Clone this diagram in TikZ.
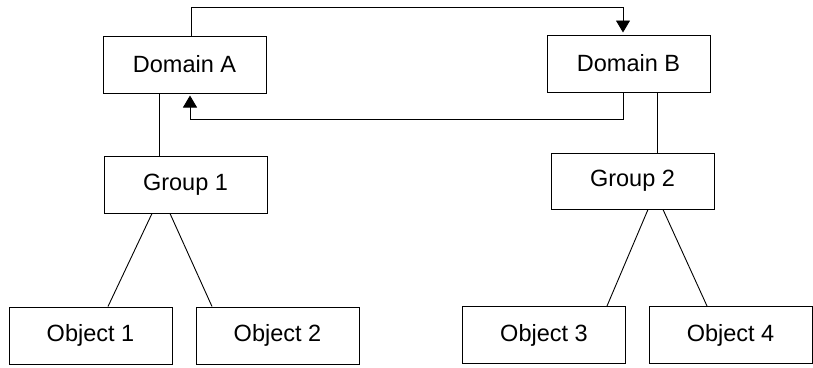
\documentclass[tikz,border=0pt]{standalone}
\usepackage{fontspec}
\setmainfont{Liberation Sans}
\usetikzlibrary{arrows.meta}
\begin{document}
\begin{tikzpicture}[x=1pt,y=-1pt,
  box/.style={draw=black, line width=1pt, fill=white, minimum width=163pt, minimum height=57pt, inner sep=0pt,
    font=\fontsize{23.5}{28}\selectfont},
  link/.style={draw=black, line width=0.9pt},
  arr/.style={link, -{Triangle[length=12pt,width=14pt]}, shorten >=2pt}]
\useasboundingbox (0,0) rectangle (813,367);
\node[box] (dA) at (184.5,64.5) {Domain A};
\node[box] (dB) at (628.5,63.5) {Domain B};
\node[box] (g1) at (185.5,184.5) {Group 1};
\node[box, minimum height=56pt] (g2) at (632.5,181) {Group 2};
\node[box] (o1) at (90.5,335.5) {Object 1};
\node[box] (o2) at (277.5,335.5) {Object 2};
\node[box] (o3) at (544,335) {Object 3};
\node[box] (o4) at (730.5,335) {Object 4};
\coordinate (top) at (0,7);
\coordinate (bot) at (0,119);
% hierarchy
\draw[link] ([xshift=-25pt]dA.south) -- ([xshift=-25pt]dA.south |- g1.north);
\draw[link] ([xshift=28.5pt]dB.south) -- ([xshift=28.5pt]dB.south |- g2.north);
\draw[link] ([xshift=-33.5pt]g1.south) -- ([xshift=17.5pt]o1.north);
\draw[link] ([xshift=-15.5pt]g1.south) -- ([xshift=-65.5pt]o2.north);
\draw[link] ([xshift=15.5pt]g2.south) -- ([xshift=63pt]o3.north);
\draw[link] ([xshift=30.5pt]g2.south) -- ([xshift=-23.5pt]o4.north);
% loop
\draw[arr] ([xshift=6.5pt]dA.north) -- ([xshift=6.5pt]dA.north |- top) -- ([xshift=-5.5pt]dB.north |- top) -- ([xshift=-5.5pt]dB.north);
\draw[arr] ([xshift=-5.5pt]dB.south) -- ([xshift=-5.5pt]dB.south |- bot) -- ([xshift=5.5pt]dA.south |- bot) -- ([xshift=5.5pt]dA.south);
\end{tikzpicture}
\end{document}
